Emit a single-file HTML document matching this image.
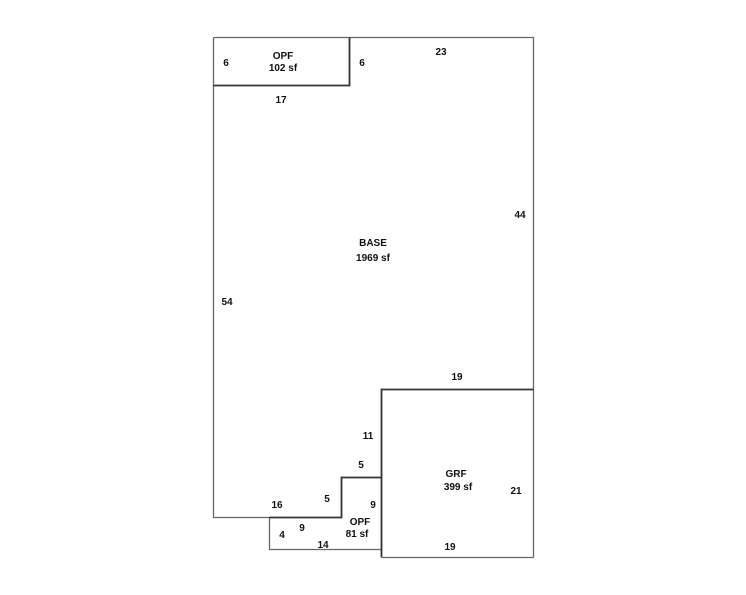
<!DOCTYPE html>
<html><head><meta charset="utf-8"><style>
html,body{margin:0;padding:0;background:#fff;}
svg{display:block;}
text{font-family:"Liberation Sans",Arial,sans-serif;font-size:10px;font-weight:bold;fill:#111;text-anchor:middle;}
</style></head><body>
<svg width="746" height="595" viewBox="0 0 746 595" xmlns="http://www.w3.org/2000/svg">
<rect width="746" height="595" fill="#fff"/>
<g fill="none" stroke="#666" stroke-width="1.3">
<polyline points="213.5,37.5 533.5,37.5 533.5,557.5"/>
<polyline points="213.5,37.5 213.5,517.5 269.5,517.5"/>
<polyline points="269.5,517.5 269.5,549.5 381.5,549.5"/>
</g>
<g fill="none" stroke="#333" stroke-width="1.8">
<polyline points="213.5,85.5 349.5,85.5 349.5,37.5"/>
<polyline points="269.5,517.5 341.5,517.5 341.5,477.5 381.5,477.5"/>
<polyline points="381.5,557.5 381.5,389.5 533.5,389.5"/>
<line x1="381.5" y1="557.5" x2="533.5" y2="557.5" stroke="#666" stroke-width="1.3"/>
</g>
<text x="283" y="59">OPF</text>
<text x="283" y="71">102 sf</text>
<text x="226" y="66">6</text>
<text x="362" y="66">6</text>
<text x="441" y="55">23</text>
<text x="281" y="103">17</text>
<text x="520" y="218">44</text>
<text x="373" y="246">BASE</text>
<text x="373" y="261">1969 sf</text>
<text x="227" y="305">54</text>
<text x="457" y="380">19</text>
<text x="368" y="439">11</text>
<text x="361" y="468">5</text>
<text x="456" y="477">GRF</text>
<text x="458" y="490">399 sf</text>
<text x="516" y="494">21</text>
<text x="277" y="508">16</text>
<text x="327" y="502">5</text>
<text x="373" y="508">9</text>
<text x="302" y="531">9</text>
<text x="360" y="525">OPF</text>
<text x="357" y="537">81 sf</text>
<text x="282" y="538">4</text>
<text x="323" y="548">14</text>
<text x="450" y="550">19</text>
</svg>
</body></html>
